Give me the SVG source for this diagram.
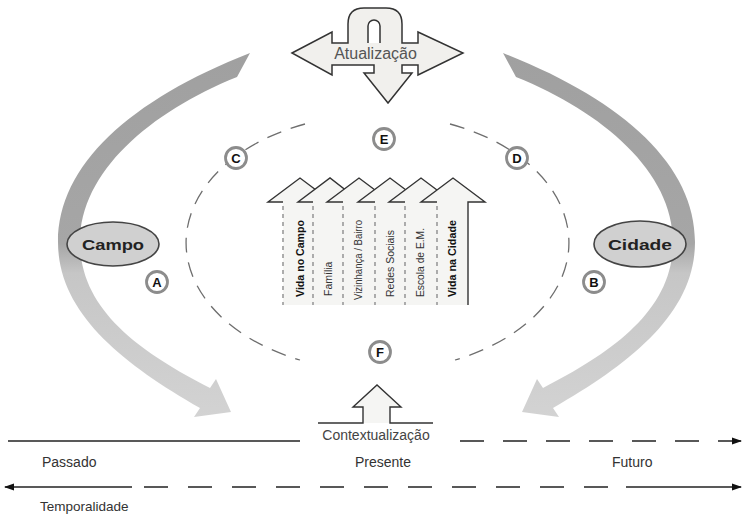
<svg xmlns="http://www.w3.org/2000/svg" width="744" height="515" viewBox="0 0 744 515">
<style>
.shape{fill:#f1f0ed;stroke:#333;stroke-width:1.5;stroke-linejoin:miter}
.lbl{font-family:"Liberation Sans",Arial,sans-serif;fill:#333}
.ring{fill:#fff;stroke:#8c8c8c;stroke-width:2.8}
.let{font-family:"Liberation Sans",Arial,sans-serif;font-weight:bold;font-size:13px;fill:#111;text-anchor:middle}
.oval{fill:#d0d0d0;stroke:#444;stroke-width:1.6}
.ovt{font-family:"Liberation Sans",Arial,sans-serif;font-weight:bold;font-size:15px;fill:#222;text-anchor:middle}
.afill{fill:#f5f5f3;stroke:none}
.ahead{fill:none;stroke:#333;stroke-width:1.4;stroke-linejoin:miter}
.adash{stroke:#9a9a9a;stroke-width:1.6;stroke-dasharray:4 4}
.vt{font-family:"Liberation Sans",Arial,sans-serif;font-size:10.5px;fill:#333}
.vb{font-family:"Liberation Sans",Arial,sans-serif;font-size:10.5px;font-weight:bold;fill:#111}
.tl{stroke:#222;stroke-width:1.6;fill:none}
.tt{font-family:"Liberation Sans",Arial,sans-serif;font-size:14px;fill:#333}
.cyc{fill:none;stroke:#6e6e6e;stroke-width:1.3;stroke-dasharray:15 10}
</style>
<defs>
<linearGradient id="bandGrad" gradientUnits="userSpaceOnUse" x1="0" y1="53" x2="0" y2="420">
<stop offset="0" stop-color="#a0a0a0"/>
<stop offset="0.52" stop-color="#a6a6a6"/>
<stop offset="0.6" stop-color="#c6c6c6"/>
<stop offset="1" stop-color="#d3d3d3"/>
</linearGradient>
<path id="band" d="M250,53 C130,100 58,165 58,242 C58,312 120,362 200,408 L194,417 L231,412 L216,379 L210,388 C140,352 80,310 80,242 C80,172 150,112 237,77 Z" fill="url(#bandGrad)"/>
<marker id="ah" markerWidth="10" markerHeight="8" refX="9" refY="4" orient="auto-start-reverse" markerUnits="userSpaceOnUse">
<path d="M0,0.5 L10,4 L0,7.5 Z" fill="#111"/>
</marker>
</defs>

<g id="band-left"><use href="#band"/></g>
<g id="band-right"><use href="#band" transform="translate(753,0) scale(-1,1)"/></g>

<g id="cycle">
<path class="cyc" d="M305,124 A190,128 0 0 0 300,360"/>
<path class="cyc" d="M450,124 A190,128 0 0 1 455,360"/>
</g>

<g id="campo">
<ellipse cx="113" cy="244" rx="46" ry="22" class="oval"/>
<text x="113" y="250" class="ovt" textLength="62" lengthAdjust="spacingAndGlyphs">Campo</text>
</g>
<g id="cidade">
<ellipse cx="640" cy="244" rx="46" ry="23" class="oval"/>
<text x="640" y="250" class="ovt" textLength="64" lengthAdjust="spacingAndGlyphs">Cidade</text>
</g>

<g id="A"><circle cx="157" cy="282" r="10.5" class="ring"/><text x="157" y="286.7" class="let">A</text></g>
<g id="B"><circle cx="594" cy="282" r="10.5" class="ring"/><text x="594" y="286.7" class="let">B</text></g>
<g id="C"><circle cx="236" cy="158" r="10.5" class="ring"/><text x="236" y="162.7" class="let">C</text></g>
<g id="D"><circle cx="517" cy="158" r="10.5" class="ring"/><text x="517" y="162.7" class="let">D</text></g>
<g id="E"><circle cx="384" cy="139" r="10.5" class="ring"/><text x="384" y="143.7" class="let">E</text></g>
<g id="F"><circle cx="380" cy="352" r="10.5" class="ring"/><text x="380" y="356.7" class="let">F</text></g>

<g id="atualizacao">
<path class="shape" d="M292,53 L332,32 L332,43 L348,43 V24 Q348,8 364,8 H386 Q402,8 402,24 V43 L418,43 L418,32 L463,53 L418,75 L418,65 L402,65 L402,73 L412,73 L388,103 L364,73 L374,73 L374,65 L332,65 L332,75 Z"/>
<path d="M368,43 V26 A6,6 0 0 1 380,26 V43 Z" fill="#fff" stroke="none"/>
<path d="M368,43 V26 A6,6 0 0 1 380,26 V43" fill="none" stroke="#333" stroke-width="1.5"/>
<text x="375.5" y="59" class="lbl" font-size="16" text-anchor="middle" style="fill:#555">Atualização</text>
</g>

<g id="vida-campo">
<polygon class="afill" points="283,305 283,202 268,202 300,178 332,202 313,202 313,305"/>
<polyline class="ahead" points="283,202 268,202 300,178 332,202 313,202"/>
<line class="adash" x1="283" y1="206" x2="283" y2="305"/>
<text class="vb" transform="translate(304,297) rotate(-90)" textLength="77" lengthAdjust="spacingAndGlyphs">Vida no Campo</text>
</g>
<g id="familia">
<polygon class="afill" points="313,305 313,202 298,202 330,178 361,202 343,202 343,305"/>
<polyline class="ahead" points="313,202 298,202 330,178 361,202 343,202"/>
<line class="adash" x1="313" y1="206" x2="313" y2="305"/>
<text class="vt" transform="translate(332,296) rotate(-90)">Família</text>
</g>
<g id="vizinhanca">
<polygon class="afill" points="343,305 343,202 327,202 359,178 391,202 375,202 375,305"/>
<polyline class="ahead" points="343,202 327,202 359,178 391,202 375,202"/>
<line class="adash" x1="343" y1="206" x2="343" y2="305"/>
<text class="vt" transform="translate(362,300) rotate(-90)" textLength="80" lengthAdjust="spacingAndGlyphs">Vizinhança / Bairro</text>
</g>
<g id="redes">
<polygon class="afill" points="375,305 375,202 358,202 390,178 422,202 405,202 405,305"/>
<polyline class="ahead" points="375,202 358,202 390,178 422,202 405,202"/>
<line class="adash" x1="375" y1="206" x2="375" y2="305"/>
<text class="vt" transform="translate(394,297) rotate(-90)" textLength="67" lengthAdjust="spacingAndGlyphs">Redes Sociais</text>
</g>
<g id="escola">
<polygon class="afill" points="405,305 405,202 389,202 421,178 453,202 437,202 437,305"/>
<polyline class="ahead" points="405,202 389,202 421,178 453,202 437,202"/>
<line class="adash" x1="405" y1="206" x2="405" y2="305"/>
<text class="vt" transform="translate(424,297) rotate(-90)" textLength="69" lengthAdjust="spacingAndGlyphs">Escola de E.M.</text>
</g>
<g id="vida-cidade">
<polygon class="afill" points="437,305 437,202 421,202 453,178 485,202 468,202 468,305"/>
<polyline class="ahead" points="437,202 421,202 453,178 485,202 468,202 468,305"/>
<line class="adash" x1="437" y1="206" x2="437" y2="305"/>
<text class="vb" transform="translate(456,297) rotate(-90)" textLength="77" lengthAdjust="spacingAndGlyphs">Vida na Cidade</text>
</g>

<g id="contextualizacao">
<path d="M363,423 V407 L353,407 L377,385 L401,407 L390,407 V423 Z" class="afill"/>
<path d="M318,423 H363 V407 L353,407 L377,385 L401,407 L390,407 V423 H433" class="ahead"/>
<text x="376" y="440" class="lbl" font-size="14" text-anchor="middle" style="fill:#444">Contextualização</text>
</g>

<g id="timeline">
<line class="tl" x1="8" y1="441" x2="300" y2="441"/>
<line class="tl" x1="460" y1="441" x2="741" y2="441" stroke-dasharray="24 19" marker-end="url(#ah)"/>
<line class="tl" x1="5" y1="487" x2="132" y2="487" marker-start="url(#ah)"/>
<line class="tl" x1="144" y1="487" x2="612" y2="487" stroke-dasharray="24 20"/>
<line class="tl" x1="626" y1="487" x2="741" y2="487" marker-end="url(#ah)"/>
<text x="42" y="467" class="tt">Passado</text>
<text x="355" y="467" class="tt">Presente</text>
<text x="612" y="467" class="tt">Futuro</text>
<text x="40" y="511" class="tt" style="font-size:13.5px">Temporalidade</text>
</g>
</svg>
